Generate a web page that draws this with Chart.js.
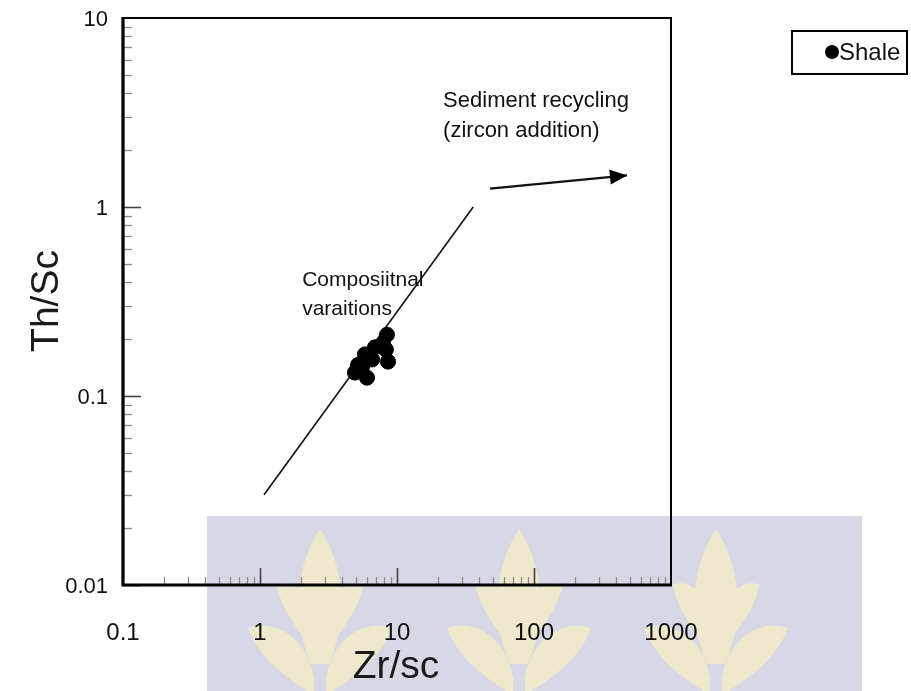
<!DOCTYPE html>
<html>
<head>
<meta charset="utf-8">
<script src="https://cdn.jsdelivr.net/npm/chart.js@4/dist/chart.umd.min.js"></script>
<style>
  html, body { margin: 0; padding: 0; background: #ffffff; }
  #wrap { width: 911px; height: 691px; position: relative; }
</style>
</head>
<body>
<div id="wrap"><canvas id="chart" width="911" height="691"></canvas></div>
<script>
// Shale samples: Zr/Sc against Th/Sc
const shaleZrSc = [4.93, 5.19, 5.56, 5.83, 6.04, 6.58, 6.90, 7.90, 8.30, 8.45, 8.60];
const shaleThSc = [0.133, 0.146, 0.143, 0.166, 0.125, 0.156, 0.181, 0.188, 0.176, 0.211, 0.152];

// Compositional-variation trend (end points)
const trendZrSc = [1.07, 36];
const trendThSc = [0.030, 1.0];

// Sediment recycling arrow (start, tip)
const recycleZrSc = [47.8, 477];
const recycleThSc = [1.25, 1.47];

// Axis ticks and labels
const xTickValues = [0.1, 1, 10, 100, 1000];
const xTickLabels = ['0.1', '1', '10', '100', '1000'];
const yTickValues = [0.01, 0.1, 1, 10];
const yTickLabels = ['0.01', '0.1', '1', '10'];

const FONT = '"Liberation Sans", Arial, Helvetica, sans-serif';
const INK = '#111111';

function labelFor(values, labels, v) {
  const i = values.findIndex(t => Math.abs(Math.log10(t) - Math.log10(v)) < 1e-6);
  return i >= 0 ? labels[i] : '';
}

function drawFlame(ctx, cx, top) {
  // central pointed leaf
  ctx.beginPath();
  ctx.moveTo(cx, top);
  ctx.bezierCurveTo(cx + 27, top + 40, cx + 27, top + 95, cx + 9, top + 135);
  ctx.lineTo(cx - 9, top + 135);
  ctx.bezierCurveTo(cx - 27, top + 95, cx - 27, top + 40, cx, top);
  ctx.closePath();
  ctx.fill();
  // two tiers of side leaves
  [[62, 44, 30], [108, 72, 44]].forEach(([dy, spread, rise]) => {
    [-1, 1].forEach(s => {
      ctx.beginPath();
      ctx.moveTo(cx + s * 6, top + dy + 40);
      ctx.bezierCurveTo(cx + s * (spread * 0.2), top + dy - 5, cx + s * (spread * 0.7), top + dy - rise * 0.4, cx + s * spread, top + dy - rise * 0.2);
      ctx.bezierCurveTo(cx + s * (spread * 0.85), top + dy + 20, cx + s * (spread * 0.5), top + dy + 40, cx + s * 6, top + dy + 58);
      ctx.closePath();
      ctx.fill();
    });
  });
}

// Frame, inside ticks, text notes, arrowhead, legend and the background stamp
const decorPlugin = {
  id: 'decor',
  beforeDraw(chart) {
    const ctx = chart.ctx;
    ctx.save();
    ctx.fillStyle = '#ffffff';
    ctx.fillRect(0, 0, chart.width, chart.height);
    // pale stamp behind the lower part of the figure
    ctx.fillStyle = '#d7d7e6';
    ctx.fillRect(207, 516, 655, 175);
    ctx.fillStyle = '#eee8cd';
    [320, 519, 716].forEach(cx => drawFlame(ctx, cx, 529));
    ctx.restore();
  },
  afterDatasetsDraw(chart) {
    const ctx = chart.ctx;
    const xs = chart.scales.x, ys = chart.scales.y;
    const a = chart.chartArea;
    ctx.save();

    // minor / major ticks pointing into the plot
    ctx.lineCap = 'butt';
    for (let e = -2; e <= 0; e++) {
      for (let m = 1; m <= 9; m++) {
        const v = m * Math.pow(10, e);
        const py = Math.round(ys.getPixelForValue(v)) + 0.5;
        const major = (m === 1);
        ctx.strokeStyle = major ? '#444' : '#8a8a8a';
        ctx.lineWidth = major ? 1.6 : 1.3;
        ctx.beginPath();
        ctx.moveTo(a.left, py);
        ctx.lineTo(a.left + (major ? 18 : 9), py);
        ctx.stroke();
      }
    }
    for (let e = -1; e <= 2; e++) {
      for (let m = 1; m <= 9; m++) {
        const v = m * Math.pow(10, e);
        if (v <= 0.1 + 1e-9) continue;
        const px = Math.round(xs.getPixelForValue(v)) + 0.5;
        const major = (m === 1);
        ctx.strokeStyle = major ? '#444' : '#8a8a8a';
        ctx.lineWidth = major ? 1.6 : 1.3;
        ctx.beginPath();
        ctx.moveTo(px, a.bottom);
        ctx.lineTo(px, a.bottom - (major ? 17 : 8));
        ctx.stroke();
      }
    }

    // plot frame: heavier left and bottom edges
    ctx.strokeStyle = '#000';
    ctx.lineWidth = 2;
    ctx.beginPath();
    ctx.moveTo(a.left, a.top);
    ctx.lineTo(a.right, a.top);
    ctx.lineTo(a.right, a.bottom);
    ctx.stroke();
    ctx.lineWidth = 3.2;
    ctx.beginPath();
    ctx.moveTo(a.left, a.top - 1);
    ctx.lineTo(a.left, a.bottom);
    ctx.lineTo(a.right + 1, a.bottom);
    ctx.stroke();

    // arrowhead on the recycling vector
    const meta = chart.getDatasetMeta(2);
    const p0 = meta.data[0], p1 = meta.data[1];
    const ang = Math.atan2(p1.y - p0.y, p1.x - p0.x);
    const L = 17, W = 7.5;
    ctx.fillStyle = '#000';
    ctx.beginPath();
    ctx.moveTo(p1.x, p1.y);
    ctx.lineTo(p1.x - L * Math.cos(ang) + W * Math.sin(ang), p1.y - L * Math.sin(ang) - W * Math.cos(ang));
    ctx.lineTo(p1.x - L * Math.cos(ang) - W * Math.sin(ang), p1.y - L * Math.sin(ang) + W * Math.cos(ang));
    ctx.closePath();
    ctx.fill();

    // notes placed in data space
    ctx.fillStyle = INK;
    ctx.textAlign = 'left';
    ctx.textBaseline = 'middle';
    const notes = [
      ['Sediment recycling', 21.7, 3.66, 22],
      ['(zircon addition)', 21.7, 2.54, 22],
      ['Composiitnal', 2.03, 0.408, 21],
      ['varaitions', 2.03, 0.287, 21]
    ];
    notes.forEach(([t, x, y, size]) => {
      ctx.font = size + 'px ' + FONT;
      ctx.fillText(t, xs.getPixelForValue(x), ys.getPixelForValue(y));
    });

    // axis titles
    ctx.font = '39px ' + FONT;
    ctx.textAlign = 'center';
    ctx.textBaseline = 'middle';
    ctx.fillStyle = '#1a1a1a';
    ctx.fillText('Zr/sc', 396, 667);
    ctx.save();
    ctx.translate(47, 301);
    ctx.rotate(-Math.PI / 2);
    ctx.fillText('Th/Sc', 0, 0);
    ctx.restore();

    // legend box
    ctx.strokeStyle = '#000';
    ctx.lineWidth = 2;
    ctx.strokeRect(792, 31, 115, 43);
    ctx.fillStyle = '#000';
    ctx.beginPath();
    ctx.arc(832, 52, 7, 0, Math.PI * 2);
    ctx.fill();
    ctx.fillStyle = INK;
    ctx.font = '24px ' + FONT;
    ctx.textAlign = 'left';
    ctx.fillText(chart.data.datasets[0].label, 839, 53);

    ctx.restore();
  }
};

const shalePoints = shaleZrSc.map((x, i) => ({ x: x, y: shaleThSc[i] }));
const trendPoints = trendZrSc.map((x, i) => ({ x: x, y: trendThSc[i] }));
const recyclePoints = recycleZrSc.map((x, i) => ({ x: x, y: recycleThSc[i] }));

new Chart(document.getElementById('chart'), {
  type: 'scatter',
  data: {
    datasets: [
      {
        label: 'Shale',
        data: shalePoints,
        backgroundColor: '#000',
        borderColor: '#000',
        pointRadius: 7.5,
        pointHoverRadius: 7.5,
        order: 0
      },
      {
        label: 'trend',
        data: trendPoints,
        showLine: true,
        borderColor: '#111',
        borderWidth: 1.6,
        pointRadius: 0,
        order: 1
      },
      {
        label: 'recycling',
        data: recyclePoints,
        showLine: true,
        borderColor: '#111',
        borderWidth: 2.2,
        pointRadius: 0,
        order: 1
      }
    ]
  },
  options: {
    responsive: false,
    animation: false,
    events: [],
    layout: { padding: { top: 18, right: 240, left: 0, bottom: 0 } },
    plugins: {
      legend: { display: false },
      tooltip: { enabled: false }
    },
    scales: {
      x: {
        type: 'logarithmic',
        position: 'bottom',
        min: 0.1,
        max: 1000,
        grid: { display: false, drawTicks: false },
        border: { display: false },
        afterBuildTicks: s => { s.ticks = xTickValues.map(v => ({ value: v })); },
        afterFit: s => { s.height = 106; s.paddingLeft = 0; s.paddingRight = 0; },
        ticks: {
          autoSkip: false,
          maxRotation: 0,
          padding: 34,
          color: INK,
          font: { family: FONT, size: 24 },
          callback: v => labelFor(xTickValues, xTickLabels, v)
        }
      },
      y: {
        type: 'logarithmic',
        position: 'left',
        min: 0.01,
        max: 10,
        grid: { display: false, drawTicks: false },
        border: { display: false },
        afterBuildTicks: s => { s.ticks = yTickValues.map(v => ({ value: v })); },
        afterFit: s => { s.width = 123; s.paddingTop = 0; s.paddingBottom = 0; },
        ticks: {
          autoSkip: false,
          padding: 15,
          labelOffset: 2,
          color: INK,
          font: { family: FONT, size: 22 },
          callback: v => labelFor(yTickValues, yTickLabels, v)
        }
      }
    }
  },
  plugins: [decorPlugin]
});
</script>
</body>
</html>
